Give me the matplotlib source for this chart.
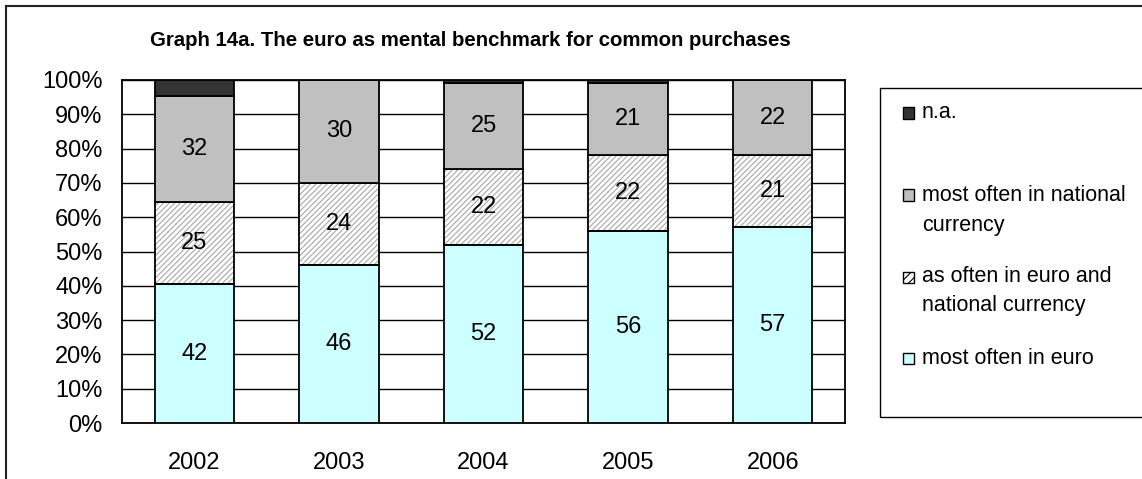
import numpy as np
import matplotlib.pyplot as plt
from matplotlib.patches import Rectangle
from matplotlib.lines import Line2D

plt.rcParams['font.family'] = ['Liberation Sans', 'DejaVu Sans']
plt.rcParams['hatch.linewidth'] = 0.8

years = ['2002', '2003', '2004', '2005', '2006']
most_euro = [42, 46, 52, 56, 57]
as_often = [25, 24, 22, 22, 21]
most_national = [32, 30, 25, 21, 22]
n_a = [5, 0, 1, 1, 0]

# legend text, one entry per line (series index, text)
legend_lines = [(0, 'n.a.'), (1, 'most often in national'), (None, 'currency'),
                (2, 'as often in euro and'), (None, 'national currency'),
                (3, 'most often in euro')]

W, H = 1142, 479
fig = plt.figure(figsize=(W / 100, H / 100), dpi=100)


def px(x0, y0, x1, y1):
    # pixel box (from top-left) -> figure fraction rect
    return [x0 / W, 1 - y1 / H, (x1 - x0) / W, (y1 - y0) / H]


ax = fig.add_axes(px(122, 80, 845, 423))

raw = np.array([most_euro, as_often, most_national, n_a], dtype=float)
pct = raw / raw.sum(axis=0) * 100
x = np.arange(len(years))
bw = 0.55

fills = ['#CCFFFF', 'white', '#C0C0C0', '#333333']
bottom = np.zeros(len(years))
for i in range(4):
    if i == 1:
        ax.bar(x, pct[i], bw, bottom=bottom, color='white', edgecolor='#A8A8A8',
               hatch='//////', linewidth=0, zorder=2)
        ax.bar(x, pct[i], bw, bottom=bottom, fill=False, edgecolor='black',
               linewidth=1.3, zorder=3)
    else:
        ax.bar(x, pct[i], bw, bottom=bottom, color=fills[i], edgecolor='black',
               linewidth=1.3, zorder=3)
    if i < 3:
        for j in range(len(years)):
            ax.text(x[j], bottom[j] + pct[i][j] / 2, str(int(raw[i][j])),
                    ha='center', va='center', fontsize=17, zorder=5)
    bottom += pct[i]

ax.set_xlim(-0.5, len(years) - 0.5)
ax.set_ylim(0, 100)
ax.set_yticks(np.arange(0, 101, 10))
ax.set_yticklabels([f'{v}%' for v in range(0, 101, 10)])
ax.set_xticks(x)
ax.set_xticklabels(years)
ax.tick_params(axis='both', length=0, labelsize=17)
ax.tick_params(axis='y', pad=14)
ax.tick_params(axis='x', pad=21)
ax.grid(axis='y', color='black', linewidth=1.0, zorder=0)
ax.set_axisbelow(True)
for s in ax.spines.values():
    s.set_linewidth(1.3)

fig.text(470 / W, 1 - 40 / H, 'Graph 14a. The euro as mental benchmark for common purchases',
         ha='center', va='center', fontsize=14.7, fontweight='bold')

# outer frame (top and left only visible)
fig.add_artist(Line2D([6 / W, 1.0], [1 - 6 / H, 1 - 6 / H], color='#222222', lw=1.5))
fig.add_artist(Line2D([6 / W, 6 / W], [0, 1 - 6 / H], color='#222222', lw=1.5))

# legend box
lx0, ly0, ly1 = 880, 88, 417
fig.add_artist(Rectangle((lx0 / W, 1 - ly1 / H), (W + 20 - lx0) / W, (ly1 - ly0) / H,
                         transform=fig.transFigure, fill=False, edgecolor='black', lw=1.0))
leg_y = [113, 195, 225, 277, 305, 358]
leg_fill = ['#333333', '#C0C0C0', 'white', '#CCFFFF']
for (k, txt), cy in zip(legend_lines, leg_y):
    if k is not None:
        sq = Rectangle((903 / W, 1 - (cy + 5.5) / H), 11 / W, 11 / H,
                       transform=fig.transFigure, facecolor=leg_fill[k],
                       edgecolor='black', lw=1.0, hatch='////' if k == 2 else None)
        fig.add_artist(sq)
    fig.text(922 / W, 1 - cy / H, txt, ha='left', va='center', fontsize=15.5)

fig.savefig('out.png', dpi=100)
